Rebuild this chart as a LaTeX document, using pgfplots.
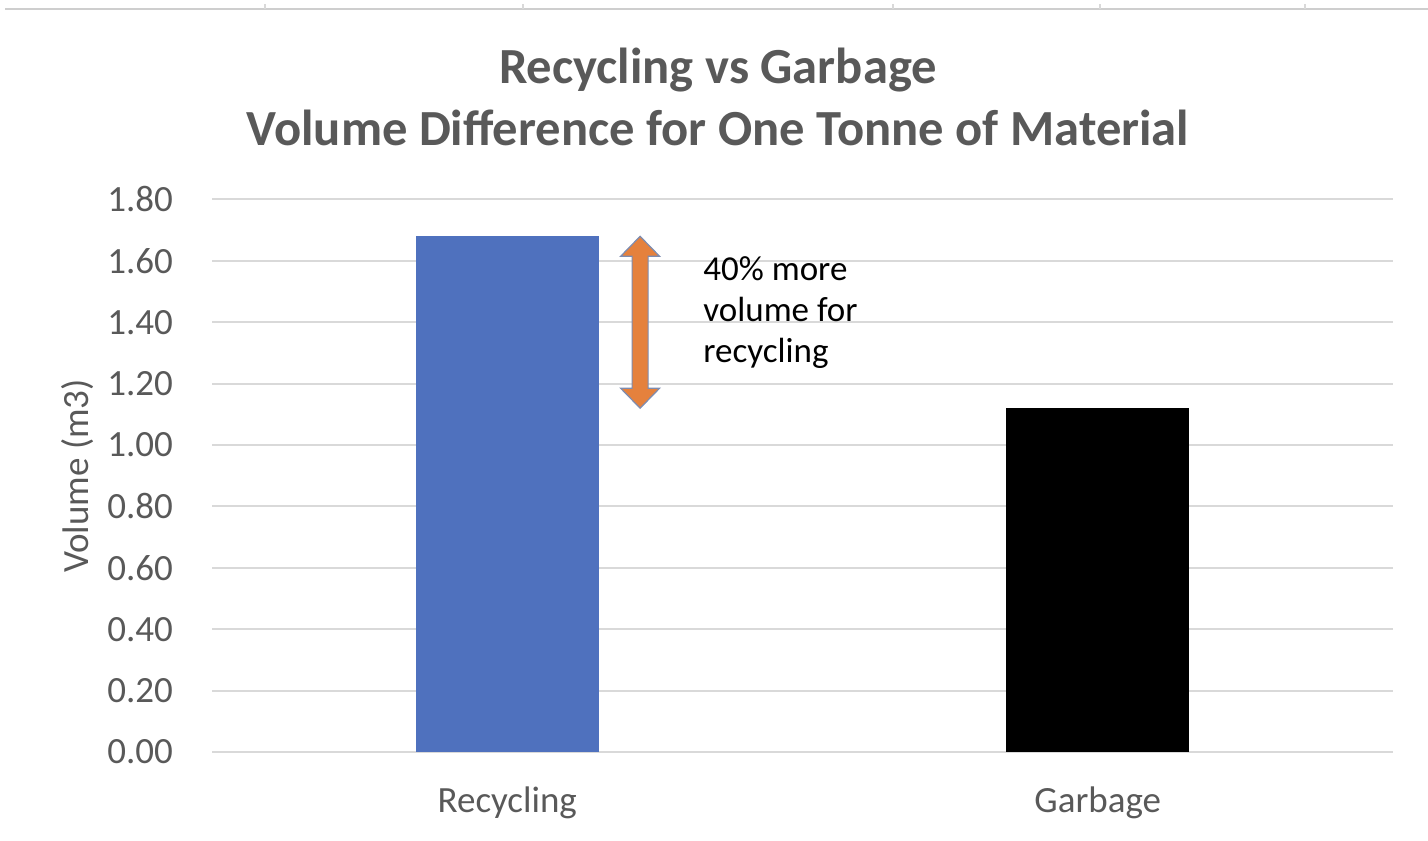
\documentclass[border=0pt]{standalone}
\usepackage{pgfplots}
\pgfplotsset{compat=1.18}
\usepackage{fontspec}
\setmainfont{Carlito}
\definecolor{txtgray}{HTML}{595959}
\definecolor{gridgray}{HTML}{D9D9D9}
\definecolor{barblue}{HTML}{4F71BE}
\definecolor{arroworange}{HTML}{E5813D}
\definecolor{arrowedge}{HTML}{7D8CB0}
\begin{document}
\begin{tikzpicture}[x=1pt,y=1pt]
% thin rule along the top edge
\draw[gridgray!80!black!60, line width=1.2pt] (2.5,415.5) -- (714,415.5);
\foreach \tx in {132.5,261.5,446.5,550,652.5}
  \draw[gridgray, line width=0.6pt] (\tx,415.5) -- (\tx,418);
\begin{axis}[
  at={(106pt,44pt)}, anchor=south west,
  scale only axis, width=590.5pt, height=276.25pt,
  xmin=-0.5, xmax=1.5, ymin=0, ymax=1.8,
  ytick={0,0.2,...,1.8},
  xtick={0,1}, xticklabels={Recycling,Garbage},
  axis line style={draw=none},
  axis x line*=bottom,
  major tick length=0pt,
  ymajorgrids, grid style={gridgray, line width=1pt},
  /pgf/number format/.cd, fixed, fixed zerofill, precision=2, assume math mode=true,
  /pgfplots/.cd,
  yticklabel style={font=\fontsize{18.5}{20}\selectfont, text=txtgray, xshift=-16pt},
  xticklabel style={font=\fontsize{18.5}{20}\selectfont, text=txtgray, yshift=-14pt},
  ybar, bar width=91.5pt, bar shift=0pt,
  clip=false,
]
\draw[gridgray, line width=1pt] (axis cs:-0.5,0) -- (axis cs:1.5,0);
\addplot[fill=barblue, draw=none] coordinates {(0,1.68)};
\addplot[fill=black, draw=none] coordinates {(1,1.12)};
% double-headed block arrow marking the difference
\coordinate (T) at (axis cs:0.225,1.68);
\coordinate (B) at (axis cs:0.225,1.12);
\filldraw[fill=arroworange, draw=arrowedge, line width=0.6pt]
  (T) -- ([xshift=9.75pt,yshift=-10pt]T) -- ([xshift=4pt,yshift=-10pt]T)
  -- ([xshift=4pt,yshift=10pt]B) -- ([xshift=9.75pt,yshift=10pt]B) -- (B)
  -- ([xshift=-9.75pt,yshift=10pt]B) -- ([xshift=-4pt,yshift=10pt]B)
  -- ([xshift=-4pt,yshift=-10pt]T) -- ([xshift=-9.75pt,yshift=-10pt]T) -- cycle;
\end{axis}
\node[font=\fontsize{17.5}{20.5}\selectfont, align=left, anchor=north west, inner sep=0pt]
  at (351.5,292) {40\% more\\volume for\\recycling};
\node[font=\fontsize{18.5}{20}\selectfont, text=txtgray, rotate=90] at (39,182) {Volume (m3)};
\node[font=\bfseries\fontsize{25.3}{31}\selectfont, text=txtgray, align=center] at (359,371.5)
  {Recycling vs Garbage\\Volume Difference for One Tonne of Material};
\pgfresetboundingbox
\path[use as bounding box] (0,0) rectangle (714,420);
\end{tikzpicture}
\end{document}
